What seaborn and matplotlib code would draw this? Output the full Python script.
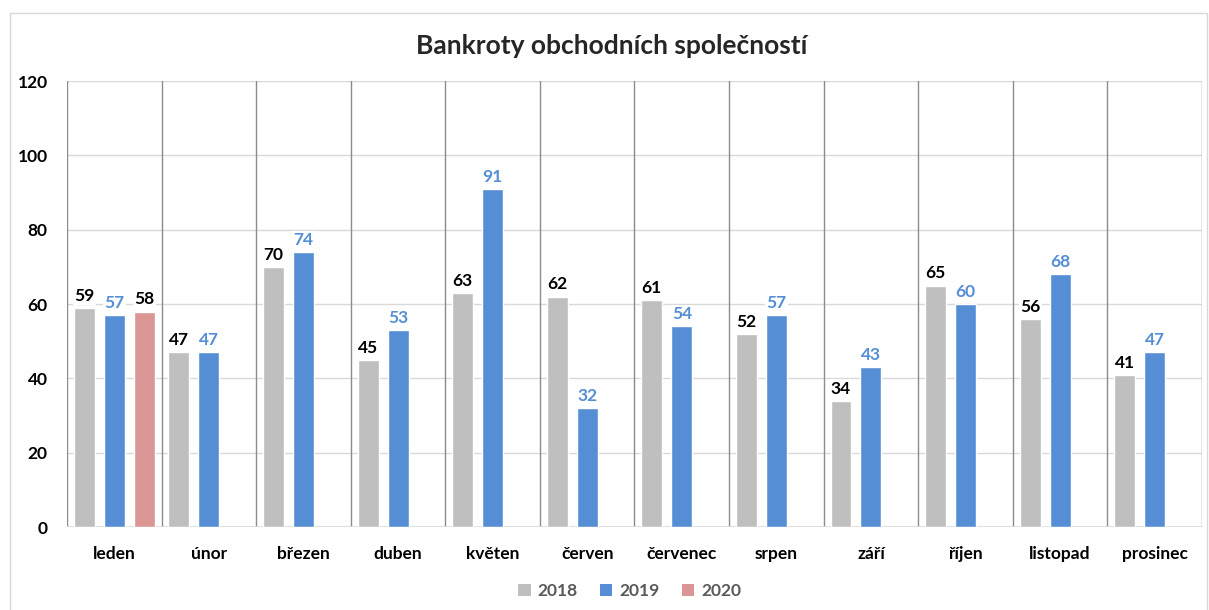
import pandas as pd
import seaborn as sns
import matplotlib.pyplot as plt
from matplotlib.patches import Patch, Rectangle

# Data
months = ["leden", "únor", "březen", "duben", "květen", "červen",
          "červenec", "srpen", "září", "říjen", "listopad", "prosinec"]
val_2018 = [59, 47, 70, 45, 63, 62, 61, 52, 34, 65, 56, 41]
val_2019 = [57, 47, 74, 53, 91, 32, 54, 57, 43, 60, 68, 47]
months_2020 = ["leden"]
val_2020 = [58]
years = ["2018", "2019", "2020"]

rows = []
for m, v in zip(months, val_2018):
    rows.append({"mesic": m, "rok": "2018", "pocet": v})
for m, v in zip(months, val_2019):
    rows.append({"mesic": m, "rok": "2019", "pocet": v})
for m, v in zip(months_2020, val_2020):
    rows.append({"mesic": m, "rok": "2020", "pocet": v})
df = pd.DataFrame(rows)

colors = {"2018": "#BFBFBF", "2019": "#558ED5", "2020": "#D99694"}
label_colors = {"2018": "black", "2019": "#558ED5", "2020": "black"}

sns.set_theme(style="white")
plt.rcParams["font.family"] = ["Lato", "DejaVu Sans"]

fig = plt.figure(figsize=(12.09, 6.10), dpi=100)
ax = fig.add_axes([0.0554, 0.136, 0.9388, 0.731])

sns.barplot(data=df, x="mesic", y="pocet", hue="rok", order=months,
            hue_order=years, palette=colors, width=0.95, gap=0.3,
            saturation=1, legend=False, ax=ax, zorder=3)

ax.set_ylim(0, 120)
ax.set_xlim(-0.5, len(months) - 0.5)
ax.set_yticks(range(0, 121, 20))
ax.yaxis.grid(True, color="#D9D9D9", linewidth=1, zorder=0)
for i in range(len(months) + 1):
    ax.axvline(i - 0.5, color="#8C8C8C", linewidth=1, zorder=1)
for s in ax.spines.values():
    s.set_visible(False)
ax.axhline(0, color="#D9D9D9", linewidth=1.2, zorder=2)

ax.set_xlabel("")
ax.set_ylabel("")
ax.tick_params(axis="x", pad=14, length=0)
ax.tick_params(axis="y", pad=14, length=0)
for t in ax.get_xticklabels() + ax.get_yticklabels():
    t.set_fontweight("bold")
    t.set_fontsize(12.5)
    t.set_color("black")

for cont, yr in zip(ax.containers, years):
    ax.bar_label(cont, fmt="%d", padding=3, fontsize=12.5, fontweight="bold",
                 color=label_colors[yr], zorder=4,
                 bbox=dict(facecolor="white", edgecolor="none", pad=1))

fig.text(0.506, 0.925, "Bankroty obchodních společností", ha="center",
         va="center", fontsize=19, fontweight="bold")

handles = [Patch(facecolor=colors[y], edgecolor="none", label=y) for y in years]
leg = fig.legend(handles=handles, loc="center", bbox_to_anchor=(0.521, 0.031),
                 ncol=3, frameon=False, handlelength=0.7, handleheight=0.7,
                 handletextpad=0.4, columnspacing=1.3, fontsize=12.5)
for t in leg.get_texts():
    t.set_fontweight("bold")
    t.set_color("#595959")

fig.patches.append(Rectangle((10 / 1209, -0.01), 1197 / 1209, 1 - 13 / 610 + 0.01,
                             transform=fig.transFigure, fill=False,
                             edgecolor="#D9D9D9", linewidth=1))

fig.savefig("out.png", dpi=100)
